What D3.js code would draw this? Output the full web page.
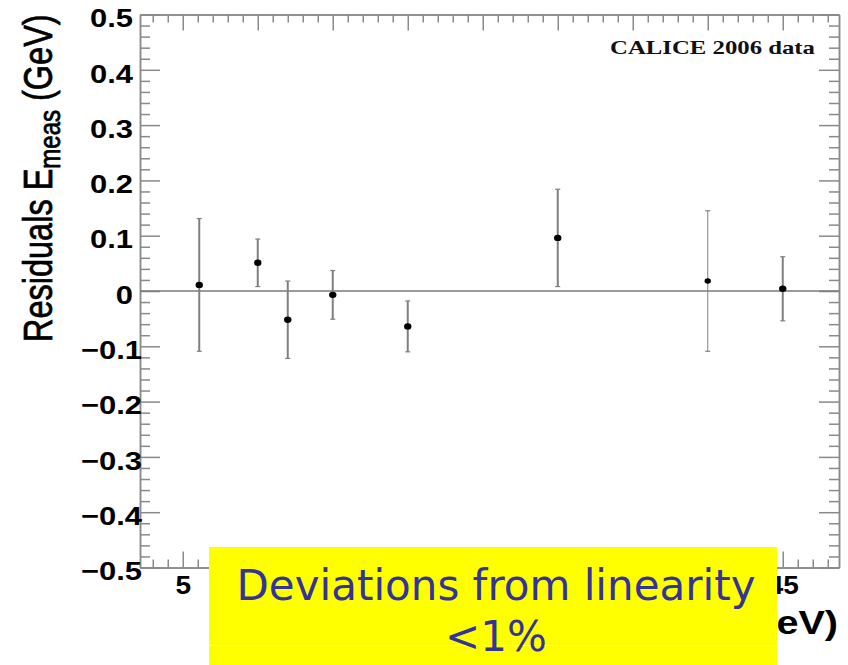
<!DOCTYPE html>
<html>
<head>
<meta charset="utf-8">
<script src="https://cdn.jsdelivr.net/npm/d3@7"></script>
<style>
  body { margin: 0; background: #fff; }
</style>
</head>
<body>
<div id="chart"></div>
<script>
// beam energy (GeV), residual and its error (GeV)
const energies = [6.1, 10, 12, 15, 20, 30, 40, 45];
const residuals = [0.011, 0.051, -0.052, -0.007, -0.064, 0.096, 0.018, 0.004];
const errors = [0.12, 0.043, 0.07, 0.044, 0.046, 0.088, 0.127, 0.058];

const xTickLabels = [5, 10, 15, 20, 25, 30, 35, 40, 45];
const xShownLabels = [5, 45]; // the others sit under the yellow note
const yTickLabels = [-0.5, -0.4, -0.3, -0.2, -0.1, 0, 0.1, 0.2, 0.3, 0.4, 0.5];
const thinPoints = [40]; // this one is drawn with a lighter bar

const width = 848;
const height = 665;
const marginTop = 14.5;
const marginRight = 9;
const marginBottom = 97.5;
const marginLeft = 140;

const axisColor = '#8a8a8a';

const x = d3.scaleLinear()
    .domain([2.15, 48.75])
    .range([marginLeft, width - marginRight]);

const y = d3.scaleLinear()
    .domain([-0.5, 0.5])
    .range([height - marginBottom, marginTop]);

const xMinor = d3.range(3, 49).filter(v => v % 5 !== 0);
const yMinor = d3.range(-24, 25).map(v => v / 50).filter(v => Math.round(v * 50) % 5 !== 0);

const svg = d3.create('svg')
    .attr('width', width)
    .attr('height', height)
    .attr('viewBox', [0, 0, width, height])
    .style('background', '#fff');

// widen text horizontally, the figure was stretched sideways
const stretch = function(sel, sx) {
    sel.each(function() {
        const t = d3.select(this);
        const tx = +t.attr('x') || 0;
        t.attr('x', 0).attr('transform', `translate(${tx},0) scale(${sx},1)`);
    });
};

const styleAxis = g => {
    g.selectAll('path, line').attr('stroke', axisColor).attr('stroke-width', 1.5);
};

const yFmt = d => d === 0 ? '0' : d3.format('.1f')(d);

// left axis
svg.append('g')
    .attr('transform', `translate(${marginLeft},0)`)
    .call(d3.axisLeft(y).tickValues(yMinor).tickSizeInner(-10).tickSizeOuter(0).tickFormat(''))
    .call(styleAxis);
svg.append('g')
    .attr('transform', `translate(${marginLeft},0)`)
    .call(d3.axisLeft(y).tickValues(yTickLabels).tickSizeInner(-20).tickSizeOuter(0).tickPadding(7).tickFormat(yFmt))
    .call(styleAxis)
    .call(g => g.selectAll('text')
        .attr('font-family', '"Liberation Sans", Arial, sans-serif')
        .attr('font-weight', 'bold')
        .attr('font-size', 26)
        .attr('fill', '#000')
        .attr('dy', '0.47em')
        .attr('x', d => d < 0 ? 2 : -7))
    .call(g => stretch(g.selectAll('text'), 1.19));

// right axis
svg.append('g')
    .attr('transform', `translate(${width - marginRight},0)`)
    .call(d3.axisRight(y).tickValues(yMinor).tickSizeInner(-10).tickSizeOuter(0).tickFormat(''))
    .call(styleAxis);
svg.append('g')
    .attr('transform', `translate(${width - marginRight},0)`)
    .call(d3.axisRight(y).tickValues(yTickLabels).tickSizeInner(-20).tickSizeOuter(0).tickFormat(''))
    .call(styleAxis);

// top axis
svg.append('g')
    .attr('transform', `translate(0,${marginTop})`)
    .call(d3.axisTop(x).tickValues(xMinor).tickSizeInner(-8).tickSizeOuter(0).tickFormat(''))
    .call(styleAxis);
svg.append('g')
    .attr('transform', `translate(0,${marginTop})`)
    .call(d3.axisTop(x).tickValues(xTickLabels).tickSizeInner(-16).tickSizeOuter(0).tickFormat(''))
    .call(styleAxis);

// bottom axis
svg.append('g')
    .attr('transform', `translate(0,${height - marginBottom})`)
    .call(d3.axisBottom(x).tickValues(xMinor).tickSizeInner(-8).tickSizeOuter(0).tickFormat(''))
    .call(styleAxis);
svg.append('g')
    .attr('transform', `translate(0,${height - marginBottom})`)
    .call(d3.axisBottom(x).tickValues(xTickLabels).tickSizeInner(-16).tickSizeOuter(0).tickPadding(8.5)
        .tickFormat(d => xShownLabels.includes(d) ? d3.format('d')(d) : ''))
    .call(styleAxis)
    .call(g => g.selectAll('text')
        .attr('font-family', '"Liberation Sans", Arial, sans-serif')
        .attr('font-weight', 'bold')
        .attr('font-size', 25)
        .attr('fill', '#000'))
    .call(g => stretch(g.selectAll('text'), 1.12));

// zero line
svg.append('line')
    .attr('x1', x.range()[0])
    .attr('x2', x.range()[1])
    .attr('y1', y(0))
    .attr('y2', y(0))
    .attr('stroke', '#7a7a7a')
    .attr('stroke-width', 1.5);

const points = energies.map((e, i) => ({ e, r: residuals[i], err: errors[i] }));

// error bars
const bars = svg.append('g')
    .selectAll()
    .data(points)
    .join('g');

bars.append('line')
    .attr('x1', d => x(d.e))
    .attr('x2', d => x(d.e))
    .attr('y1', d => y(d.r + d.err))
    .attr('y2', d => y(d.r - d.err))
    .attr('stroke', '#7f7f7f')
    .attr('stroke-width', d => thinPoints.includes(d.e) ? 1 : 2);

bars.selectAll('.cap')
    .data(d => [[d.e, d.r + d.err], [d.e, d.r - d.err]])
    .join('line')
    .attr('class', 'cap')
    .attr('x1', d => x(d[0]) - 2.5)
    .attr('x2', d => x(d[0]) + 2.5)
    .attr('y1', d => y(d[1]))
    .attr('y2', d => y(d[1]))
    .attr('stroke', '#7f7f7f')
    .attr('stroke-width', 1.2);

svg.append('g')
    .attr('fill', '#000')
    .selectAll()
    .data(points)
    .join('ellipse')
    .attr('cx', d => x(d.e))
    .attr('cy', d => y(d.r))
    .attr('rx', d => thinPoints.includes(d.e) ? 3.2 : 3.7)
    .attr('ry', d => thinPoints.includes(d.e) ? 2.7 : 3.2);

// label in the corner
svg.append('text')
    .attr('x', 610)
    .attr('y', 53.5)
    .attr('font-family', '"Liberation Serif", "Times New Roman", serif')
    .attr('font-weight', 'bold')
    .attr('font-size', 19)
    .attr('textLength', 205)
    .attr('lengthAdjust', 'spacingAndGlyphs')
    .attr('fill', '#111')
    .text('CALICE 2006 data');

// y-axis title
const yTitle = svg.append('text')
    .attr('transform', 'translate(52,342) scale(1.25,1) rotate(-90)')
    .attr('font-family', '"Liberation Sans", Arial, sans-serif')
    .attr('font-size', 32.5)
    .attr('fill', '#000')
    .attr('stroke', '#000')
    .attr('stroke-width', 0.6);
yTitle.append('tspan').text('Residuals E');
yTitle.append('tspan').attr('font-size', 24).attr('dy', 6.5).text('meas');
yTitle.append('tspan').attr('dy', -6.5).text(' (GeV)');

// x-axis title (mostly hidden behind the note)
svg.append('text')
    .attr('transform', 'translate(838,634) scale(1.2,1)')
    .attr('text-anchor', 'end')
    .attr('font-family', '"Liberation Sans", Arial, sans-serif')
    .attr('font-weight', 'bold')
    .attr('font-size', 33)
    .attr('fill', '#000')
    .text('Beam energy (GeV)');

// yellow note box
const note = svg.append('g');
note.append('rect')
    .attr('x', 209)
    .attr('y', 547)
    .attr('width', 568)
    .attr('height', 118)
    .attr('fill', '#ffff00');
note.append('line')
    .attr('x1', 209)
    .attr('x2', 777)
    .attr('y1', 645.5)
    .attr('y2', 645.5)
    .attr('stroke', '#fff')
    .attr('stroke-width', 1);
note.selectAll('text')
    .data(['Deviations from linearity', '<1%'])
    .join('text')
    .attr('x', 496)
    .attr('y', (d, i) => i === 0 ? 600 : 651)
    .attr('text-anchor', 'middle')
    .attr('font-family', '"DejaVu Sans", Verdana, sans-serif')
    .attr('font-size', 42)
    .attr('fill', '#333399')
    .text(d => d);

chart.append(svg.node());
</script>
</body>
</html>
